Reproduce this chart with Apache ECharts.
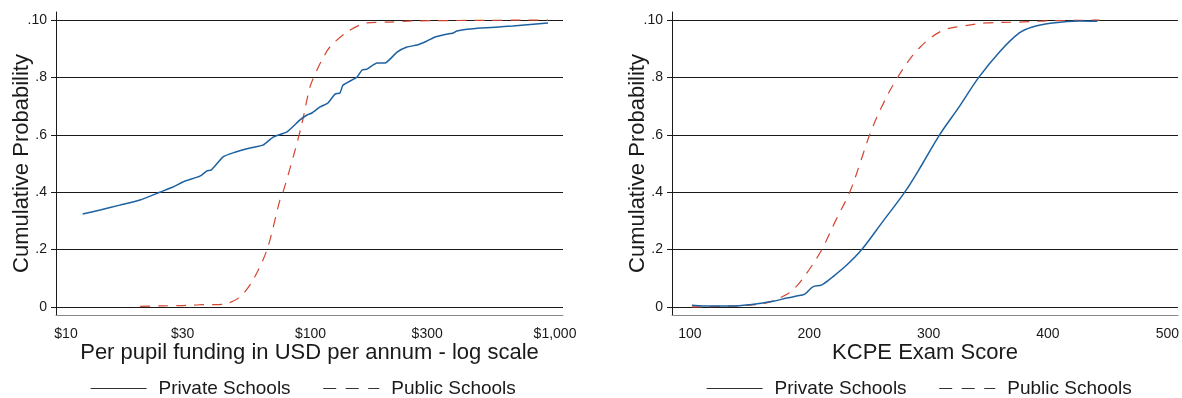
<!DOCTYPE html>
<html>
<head>
<meta charset="utf-8">
<script src="https://cdn.jsdelivr.net/npm/echarts@6/dist/echarts.min.js"></script>
<style>html,body{margin:0;padding:0;background:#fff}#c{width:1182px;height:398px}</style>
</head>
<body>
<div id="c"></div>
<script>
// ---- Data ----
// Left panel: per pupil funding (USD, log scale) vs cumulative probability
const fundPrivateX = [11.7, 13.8, 16.6, 20.1, 24.2, 27.4, 30.7, 35.3, 37.7, 39.2, 43.9, 48.2, 56.6, 63.9, 70.3, 80.1, 90.6, 96.8, 101.4, 109.4, 117.9, 126, 132, 135.8, 155, 162.4, 170.3, 187, 201.7, 225.8, 248, 272.6, 299.6, 323, 348, 383, 397, 493, 673, 936];
const fundPrivateY = [0.324, 0.338, 0.355, 0.373, 0.400, 0.418, 0.439, 0.456, 0.474, 0.477, 0.523, 0.537, 0.554, 0.564, 0.592, 0.610, 0.652, 0.669, 0.676, 0.697, 0.711, 0.742, 0.746, 0.773, 0.801, 0.826, 0.829, 0.850, 0.850, 0.888, 0.906, 0.913, 0.927, 0.941, 0.948, 0.955, 0.962, 0.972, 0.979, 0.990];
const fundPublicX = [20.1, 25, 30, 33, 36, 40, 45.5, 51.5, 58.2, 66.4, 75, 77.2, 86.5, 92.3, 99.5, 106.3, 111.4, 120, 141, 170, 211, 262, 936];
const fundPublicY = [0.002, 0.004, 0.005, 0.006, 0.008, 0.008, 0.012, 0.035, 0.094, 0.200, 0.373, 0.400, 0.547, 0.640, 0.767, 0.826, 0.861, 0.906, 0.958, 0.990, 0.993, 0.997, 1.000];
// Right panel: KCPE exam score vs cumulative probability
const kcpePrivateX = [101.7, 120, 135, 150.2, 169.5, 181.2, 189.5, 196.2, 203, 210.5, 219.7, 231.4, 244, 262, 280, 295, 309.2, 326, 342, 359.4, 376, 387, 403.8, 426.4, 441.4];
const kcpePrivateY = [0.006, 0.003, 0.003, 0.008, 0.020, 0.031, 0.038, 0.045, 0.070, 0.077, 0.105, 0.146, 0.200, 0.300, 0.400, 0.500, 0.600, 0.700, 0.800, 0.889, 0.955, 0.976, 0.990, 0.997, 0.996];
const kcpePublicX = [101.7, 150, 165, 175.3, 186.2, 197.9, 210.5, 222, 233.9, 242.5, 250.6, 261, 274, 291.6, 310.9, 328.5, 348.5, 376.2, 398.7, 443.1];
const kcpePublicY = [0.000, 0.006, 0.015, 0.031, 0.059, 0.118, 0.200, 0.300, 0.400, 0.500, 0.600, 0.700, 0.800, 0.900, 0.962, 0.979, 0.990, 0.993, 0.997, 1.000];
// Tick labels
const yTickVals = [0, 0.2, 0.4, 0.6, 0.8, 1.0];
const yTickLabels = ['0', '.2', '.4', '.6', '.8', '.10'];
const fundTickVals = [10, 30, 100, 300, 1000];
const fundTickLabels = ['$10', '$30', '$100', '$300', '$1,000'];
const kcpeTickVals = [100, 200, 300, 400, 500];
const kcpeTickLabels = ['100', '200', '300', '400', '500'];
const seriesNames = ['Private Schools', 'Public Schools'];

// ---- Build ----
const lg = Math.log10;
const zip = (xs, ys, f) => xs.map((x, i) => [f ? f(x) : x, ys[i]]);
const labelFor = (vals, labels) => (v) => {
  let best = 0, bd = Infinity;
  vals.forEach((t, i) => { const d = Math.abs(t - v); if (d < bd) { bd = d; best = i; } });
  return labels[best];
};
const BLUE = '#1d62a0', RED = '#d2462f', INK = '#1a1a1a';

function yAxis(grid) {
  return {
    type: 'value', gridIndex: grid, min: -0.028, max: 1.028,
    name: 'Cumulative Probability', nameLocation: 'middle', nameGap: 23, nameMoveOverlap: false,
    nameTextStyle: { fontSize: 22, color: INK },
    axisLine: { show: true, lineStyle: { color: INK, width: 1 } },
    axisTick: { show: true, length: 5, customValues: yTickVals, lineStyle: { color: INK } },
    axisLabel: { customValues: yTickVals, formatter: labelFor(yTickVals, yTickLabels), fontSize: 14, color: INK, margin: 9 },
    splitLine: { show: true, lineStyle: { color: INK, width: 1 } }
  };
}
function xAxis(grid, min, max, ticks, fmt, name) {
  return {
    type: 'value', gridIndex: grid, min: min, max: max,
    name: name, nameLocation: 'middle', nameGap: 27, nameMoveOverlap: false,
    nameTextStyle: { fontSize: 22, color: INK },
    axisLine: { show: true, onZero: false, lineStyle: { color: '#888', width: 1 } },
    axisTick: { show: false, customValues: ticks },
    axisLabel: { customValues: ticks, formatter: fmt, fontSize: 14, color: INK, margin: 12 },
    splitLine: { show: false }
  };
}
function legend(left) {
  return {
    left: left, top: 379, padding: 0, itemWidth: 56, itemHeight: 14, itemGap: 32,
    data: [
      { name: seriesNames[0] },
      { name: seriesNames[1], lineStyle: { type: [13, 9.5] } }
    ],
    textStyle: { fontSize: 19, color: INK, padding: [0, 0, 0, 7] },
    lineStyle: { color: '#333', width: 1.2 },
    itemStyle: { color: 'rgba(0,0,0,0)', borderWidth: 0 },
    selectedMode: false
  };
}
function line(name, xi, data, color, dashed, smooth) {
  return {
    name: name, type: 'line', xAxisIndex: xi, yAxisIndex: xi, data: data,
    symbol: 'none', smooth: smooth,
    lineStyle: { color: color, width: dashed ? 1.2 : 1.5, type: dashed ? [10, 8] : 'solid' },
    itemStyle: { color: color }, z: dashed ? 3 : 4
  };
}

const option = {
  animation: false,
  textStyle: { fontFamily: 'Liberation Sans, Arial, sans-serif' },
  grid: [
    { left: 56, top: 12, width: 507, height: 303 },
    { left: 672, top: 12, width: 507, height: 303 }
  ],
  xAxis: [
    xAxis(0, lg(9.1), lg(1078), fundTickVals.map(lg), labelFor(fundTickVals.map(lg), fundTickLabels), 'Per pupil funding in USD per annum - log scale'),
    xAxis(1, 85, 509, kcpeTickVals, labelFor(kcpeTickVals, kcpeTickLabels), 'KCPE Exam Score')
  ],
  yAxis: [yAxis(0), yAxis(1)],
  legend: [legend(90), legend(706)],
  series: [
    line(seriesNames[0], 0, zip(fundPrivateX, fundPrivateY, lg), BLUE, false, 0.15),
    line(seriesNames[1], 0, zip(fundPublicX, fundPublicY, lg), RED, true, 0.3),
    line(seriesNames[0], 1, zip(kcpePrivateX, kcpePrivateY), BLUE, false, 0.35),
    line(seriesNames[1], 1, zip(kcpePublicX, kcpePublicY), RED, true, 0.35)
  ]
};
const chart = echarts.init(document.getElementById('c'), null, { renderer: 'canvas' });
chart.setOption(option);
</script>
</body>
</html>
